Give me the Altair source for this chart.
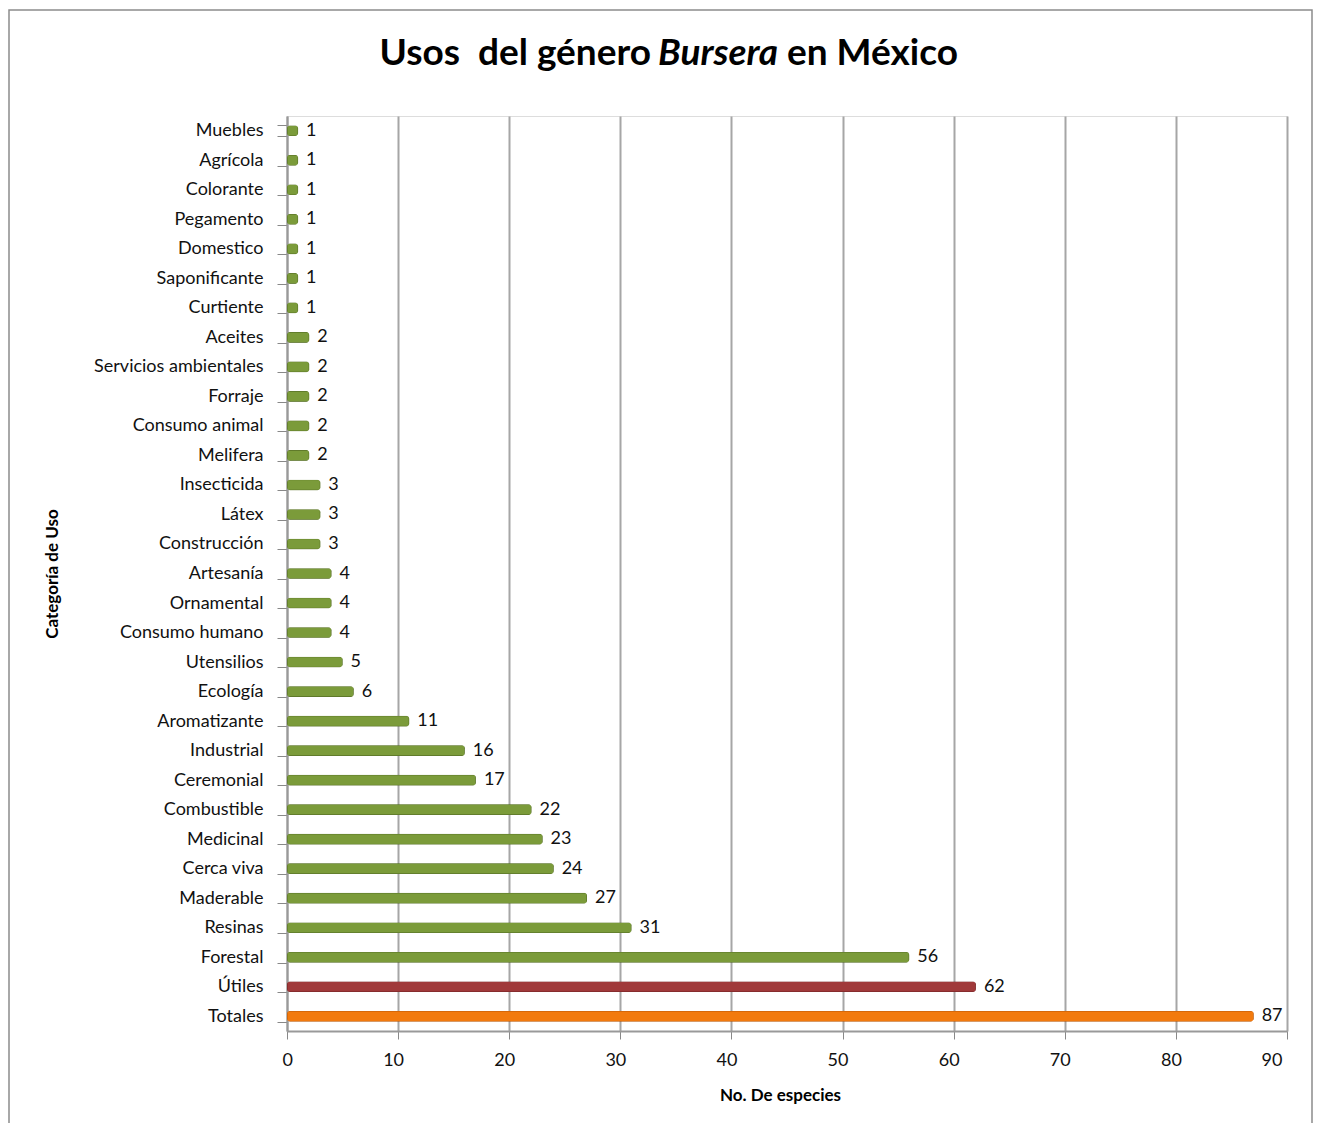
import altair as alt
import pandas as pd

categories = ["Muebles", "Agrícola", "Colorante", "Pegamento", "Domestico", "Saponificante",
              "Curtiente ", "Aceites", "Servicios ambientales", "Forraje", "Consumo animal",
              "Melifera", "Insecticida", "Látex", "Construcción", "Artesanía", "Ornamental",
              "Consumo humano", "Utensilios", "Ecología", "Aromatizante", "Industrial",
              "Ceremonial", "Combustible", "Medicinal", "Cerca viva", "Maderable", "Resinas",
              "Forestal", "Útiles", "Totales"]
values = [1, 1, 1, 1, 1, 1, 1, 2, 2, 2, 2, 2, 3, 3, 3, 4, 4, 4, 5, 6, 11, 16, 17, 22, 23,
          24, 27, 31, 56, 62, 87]
groups = ["uso"] * 29 + ["utiles", "totales"]
x_ticks = [0, 10, 20, 30, 40, 50, 60, 70, 80, 90]

df = pd.DataFrame({"cat": categories, "val": values, "grp": groups})

FONT = "Lato"
W, H = 1000, 915

y_enc = alt.Y("cat:N", sort=categories, title="Categoría de Uso",
              scale=alt.Scale(paddingInner=0.64, paddingOuter=0.32),
              axis=alt.Axis(labelFont=FONT, labelFontSize=18, labelColor="#111",
                            labelPadding=14, tickBand="extent", tickSize=10,
                            tickColor="#888", domainColor="#999", domainWidth=2,
                            titleFont=FONT, titleFontSize=17, titleFontWeight="bold",
                            titleColor="#000", titleX=-235, titleY=H / 2,
                            titleAlign="center", titleBaseline="middle", titleAngle=-90))
x_enc = alt.X("val:Q", title="No. De especies",
              scale=alt.Scale(domain=[0, 90], nice=False),
              axis=alt.Axis(values=x_ticks, labelFont=FONT, labelFontSize=18,
                            labelColor="#111", labelPadding=12, tickSize=8,
                            labelOffset=-5,
                            tickColor="#888", domainColor="#999", domainWidth=2,
                            gridColor="#a6a6a6", gridWidth=2,
                            titleFont=FONT, titleFontSize=17, titleFontWeight="bold",
                            titleColor="#000", titleX=493, titleY=64,
                            titleBaseline="middle"))

color = alt.Color("grp:N", legend=None,
                  scale=alt.Scale(domain=["uso", "utiles", "totales"],
                                  range=["#7b9b3a", "#a0393a", "#f27a0e"]))
stroke = alt.Stroke("grp:N", legend=None,
                    scale=alt.Scale(domain=["uso", "utiles", "totales"],
                                    range=["#4f6622", "#6a1f1f", "#b05206"]))

bars = alt.Chart(df).mark_bar(cornerRadius=3, strokeWidth=1).encode(
    y=y_enc, x=x_enc, color=color, stroke=stroke)

labels = alt.Chart(df).mark_text(align="left", baseline="middle", dx=8, font=FONT,
                                 fontSize=18, color="#111").encode(
    y=alt.Y("cat:N", sort=categories), x="val:Q", text="val:Q")

t1 = alt.Chart(pd.DataFrame({"t": ["Usos\u00a0 del género"]})).mark_text(
    align="right", baseline="alphabetic", font=FONT, fontSize=37, fontWeight="bold",
    color="#000").encode(text="t:N", x=alt.value(364), y=alt.value(-51))
t2 = alt.Chart(pd.DataFrame({"t": ["Bursera"]})).mark_text(
    align="left", baseline="alphabetic", font=FONT, fontSize=37, fontWeight="bold",
    fontStyle="italic", color="#000").encode(text="t:N", x=alt.value(371), y=alt.value(-51))
t3 = alt.Chart(pd.DataFrame({"t": ["en México"]})).mark_text(
    align="left", baseline="alphabetic", font=FONT, fontSize=37, fontWeight="bold",
    color="#000").encode(text="t:N", x=alt.value(500), y=alt.value(-51))

border = alt.Chart(pd.DataFrame({"a": [0]})).mark_rect(
    fill=None, stroke="#8c8c8c", strokeWidth=1.5).encode(
    x=alt.value(-278), x2=alt.value(1025), y=alt.value(-106), y2=alt.value(1040))

chart = alt.layer(border, bars, labels, t1, t2, t3).properties(
    width=W, height=H,
    autosize=alt.AutoSizeParams(type="none"),
    padding={"left": 279, "top": 108, "right": 27, "bottom": 92},
).configure_view(stroke=None).configure(background="white")

chart.save("out.html", embed_options={"renderer": "svg", "actions": False})
